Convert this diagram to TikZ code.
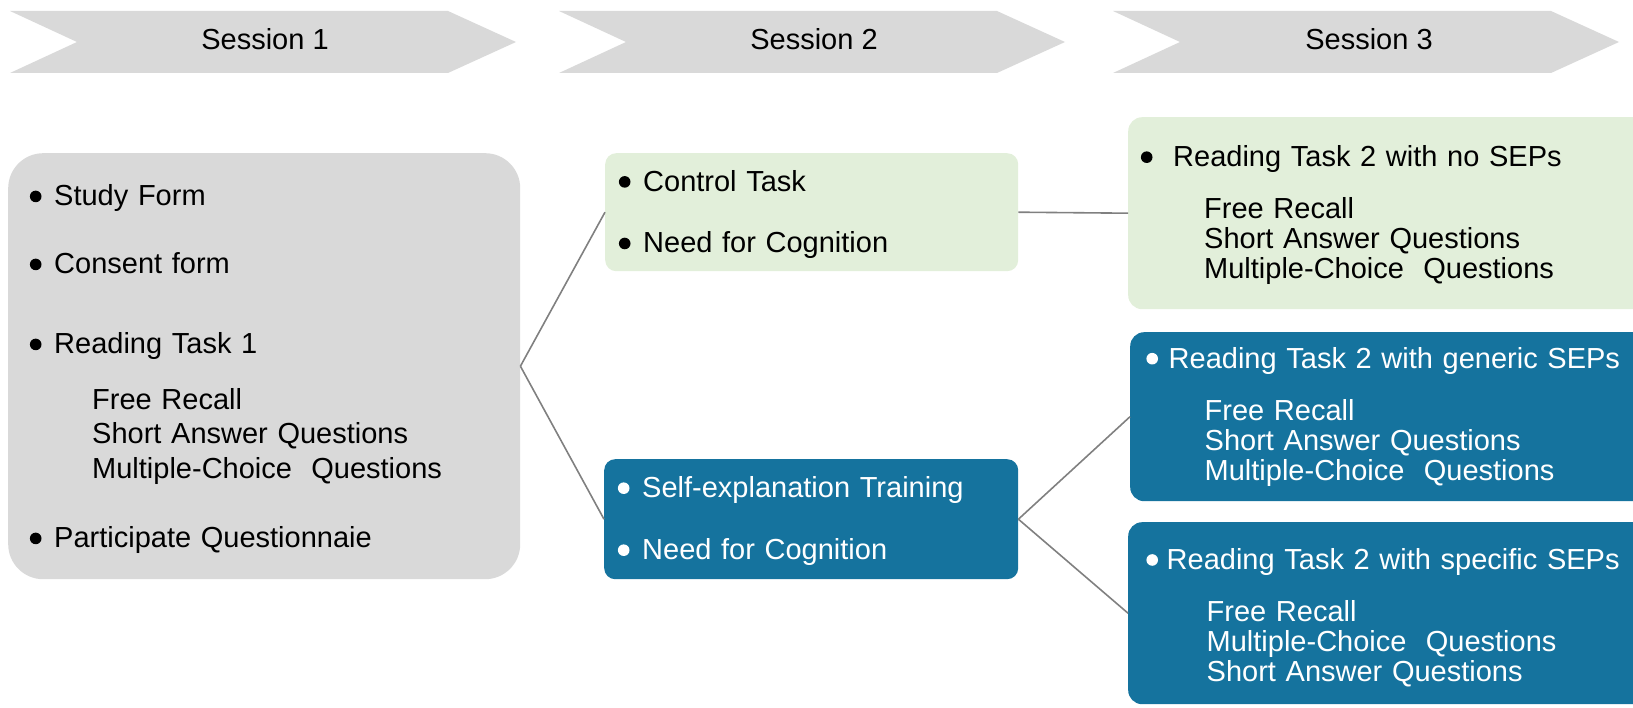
\documentclass[tikz,border=0pt]{standalone}
\usepackage{fontspec}
\setmainfont{Liberation Sans}

\definecolor{sessgray}{RGB}{217,217,217}
\definecolor{ctrlgreen}{RGB}{226,239,218}
\definecolor{seblue}{RGB}{21,115,158}
\definecolor{linkgray}{RGB}{128,128,128}

% bullet line and indented line inside the boxes
\newcommand{\dotmark}{\tikz[baseline=0pt]{\path (0pt,0pt); \fill (6.5pt,9.5pt) circle (5.8pt);}}
\newcommand{\bitem}[2][25pt]{\makebox[#1][l]{\dotmark}#2}
\newcommand{\subtab}[1][63pt]{\hspace*{#1}}
\newcommand{\topstrut}[1]{\rule{0pt}{#1}}

\tikzset{
    box/.style={anchor=north west, align=left, inner ysep=0pt, font=\fontsize{29}{34}\selectfont},
    formbox/.style={box, fill=sessgray, rounded corners=35pt},
    ctrlbox/.style={box, fill=ctrlgreen, rounded corners=11pt},
    sebox/.style={box, fill=seblue, text=white, rounded corners=11pt},
    taskbox/.style={box, rounded corners=14pt, font=\fontsize{29}{30}\selectfont},
    link/.style={draw=linkgray, line width=1.6pt},
    chev/.style={fill=sessgray},
    sess/.style={font=\fontsize{29}{34}\selectfont}
}

\begin{document}
\begin{tikzpicture}[x=1pt,y=-1pt]
    \useasboundingbox (0,0) rectangle (1633,708);
    \clip (0,0) rectangle (1633,708);
    % session headers
    \fill[chev] (10,11) -- (448,11) -- (516,42) -- (448,73) -- (10,73) -- (77,42) -- cycle;
    \fill[chev] (559,11) -- (997,11) -- (1065,42) -- (997,73) -- (559,73) -- (626,42) -- cycle;
    \fill[chev] (1113,11) -- (1551,11) -- (1619,42) -- (1551,73) -- (1113,73) -- (1180,42) -- cycle;
    \node[sess] (s1) at (265,39) {Session 1};
    \node[sess] (s2) at (814,39) {Session 2};
    \node[sess] (s3) at (1369,39) {Session 3};
    % session 1
    \node[formbox, inner xsep=21pt, text width=470pt, minimum height=426pt] (form) at (8,153) {%
        \topstrut{27.5pt}\bitem{Study Form}\\[34pt]
        \bitem{Consent form}\\[46pt]
        \bitem{Reading Task 1}\\[22pt]
        \subtab Free Recall\\
        \subtab Short Answer Questions\\[1pt]
        \subtab Multiple-Choice\ \ Questions\\[35pt]
        \bitem{Participate Questionnaie}};
    % session 2
    \node[ctrlbox, inner xsep=13pt, text width=387pt, minimum height=118pt] (ctrl) at (605,153) {%
        \topstrut{26pt}\bitem{Control Task}\\[27.6pt]
        \bitem{Need for Cognition}};
    \node[sebox, inner xsep=13pt, text width=388pt, minimum height=120pt] (se) at (604,459) {%
        \topstrut{25pt}\bitem{Self-explanation Training}\\[28pt]
        \bitem{Need for Cognition}};
    % session 3
    \node[taskbox, fill=ctrlgreen, inner xsep=12pt, text width=520pt, minimum height=192pt] (nosep) at (1128,117) {%
        \topstrut{25pt}\bitem[33pt]{Reading Task 2 with no SEPs}\\[22pt]
        \subtab[64pt]Free Recall\\
        \subtab[64pt]Short Answer Questions\\
        \subtab[64pt]Multiple-Choice\ \ Questions};
    \node[taskbox, fill=seblue, text=white, inner xsep=15.5pt, text width=520pt, minimum height=169pt] (gensep) at (1130,332) {%
        \bitem[23pt]{Reading Task 2 with generic SEPs}\\[22pt]
        \subtab[59pt]Free Recall\\
        \subtab[59pt]Short Answer Questions\\
        \subtab[59pt]Multiple-Choice\ \ Questions};
    \node[taskbox, fill=seblue, text=white, inner xsep=17.5pt, text width=520pt, minimum height=182pt] (specsep) at (1128,522) {%
        \topstrut{30pt}\bitem[21pt]{Reading Task 2 with specific SEPs}\\[22pt]
        \subtab[61pt]Free Recall\\
        \subtab[61pt]Multiple-Choice\ \ Questions\\
        \subtab[61pt]Short Answer Questions};
    % connectors
    \draw[link] (form.east) -- (ctrl.west);
    \draw[link] (form.east) -- (se.west);
    \draw[link] (ctrl.east) -- (nosep.west);
    \draw[link] (se.east) -- (gensep.west);
    \draw[link] (se.east) -- (specsep.west);
\end{tikzpicture}
\end{document}
